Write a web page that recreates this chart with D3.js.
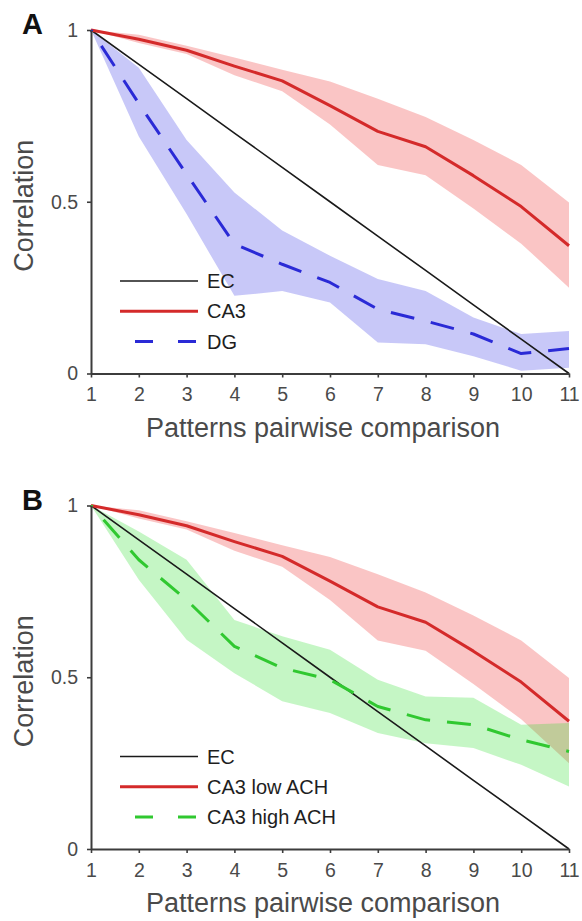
<!DOCTYPE html>
<html>
<head>
<meta charset="utf-8">
<script src="https://cdnjs.cloudflare.com/ajax/libs/d3/7.8.5/d3.min.js"></script>
<style>
  body { margin: 0; background: #fff; }
  svg { display: block; font-family: Arial, "Liberation Sans", sans-serif; }
</style>
</head>
<body>
<svg id="chart" width="582" height="921"></svg>
<script>
'use strict';
// pattern index (x axis)
var patterns = [1, 2, 3, 4, 5, 6, 7, 8, 9, 10, 11];
var xTicks = [1, 2, 3, 4, 5, 6, 7, 8, 9, 10, 11];
var yTicks = [0, 0.5, 1];
var yTickLabels = ['0', '0.5', '1'];

// EC input correlation
var ecMean = [1, 0.9, 0.8, 0.7, 0.6, 0.5, 0.4, 0.3, 0.2, 0.1, 0];
// CA3 (low ACH)
var ca3Mean = [1, 0.973, 0.941, 0.895, 0.852, 0.78, 0.705, 0.66, 0.576, 0.486, 0.372];
var ca3Upper = [1, 0.986, 0.954, 0.92, 0.884, 0.85, 0.8, 0.747, 0.68, 0.607, 0.498];
var ca3Lower = [1, 0.962, 0.93, 0.868, 0.822, 0.725, 0.607, 0.577, 0.48, 0.378, 0.25];
// DG
var dgMean = [1, 0.786, 0.58, 0.377, 0.318, 0.265, 0.187, 0.153, 0.115, 0.058, 0.073];
var dgUpper = [1, 0.89, 0.68, 0.527, 0.416, 0.343, 0.275, 0.24, 0.163, 0.115, 0.124];
var dgLower = [1, 0.69, 0.464, 0.226, 0.24, 0.207, 0.09, 0.085, 0.05, 0.008, 0.017];
// CA3 high ACH
var ca3HighMean = [1, 0.842, 0.725, 0.59, 0.527, 0.493, 0.415, 0.376, 0.362, 0.318, 0.284];
var ca3HighUpper = [1, 0.924, 0.842, 0.667, 0.619, 0.58, 0.493, 0.444, 0.44, 0.362, 0.367];
var ca3HighLower = [1, 0.784, 0.609, 0.512, 0.43, 0.396, 0.338, 0.308, 0.294, 0.245, 0.182];

var svg = d3.select('#chart');

var x = d3.scaleLinear().domain([1, 11]).range([91, 569]);

var drawPanel = function(letter, top, series){
  var bottom = top + 343.5;
  var y = d3.scaleLinear().domain([0, 1]).range([bottom, top]);
  var g = svg.append('g');

  var area = d3.area()
    .x(function(d){ return x(d.x); })
    .y0(function(d){ return y(d.lo); })
    .y1(function(d){ return y(d.hi); });
  var line = d3.line()
    .x(function(d){ return x(d.x); })
    .y(function(d){ return y(d.v); });

  // shaded bands first
  series.forEach(function(s){
    if(!s.upper) return;
    var pts = patterns.map(function(p, i){ return {x: p, lo: s.lower[i], hi: s.upper[i]}; });
    g.append('path')
      .attr('d', area(pts))
      .attr('fill', s.band)
      .attr('fill-opacity', 0.27)
      .attr('stroke', 'none');
  });

  series.forEach(function(s){
    var pts = patterns.map(function(p, i){ return {x: p, v: s.mean[i]}; });
    g.append('path')
      .attr('d', line(pts))
      .attr('fill', 'none')
      .attr('stroke', s.color)
      .attr('stroke-width', s.width)
      .attr('stroke-dasharray', s.dashed ? '24,17' : null)
      .attr('stroke-dashoffset', s.dashed ? 22 : null)
      .attr('stroke-linejoin', 'round');
  });

  // axes
  var xAxis = d3.axisBottom(x).tickValues(xTicks).tickSize(4).tickSizeOuter(0).tickPadding(10);
  var yAxis = d3.axisLeft(y).tickValues(yTicks).tickSize(4).tickSizeOuter(0).tickPadding(9)
    .tickFormat(function(d, i){ return yTickLabels[i]; });

  var gx = g.append('g').attr('transform', 'translate(0,' + bottom + ')').call(xAxis);
  var gy = g.append('g').attr('transform', 'translate(' + x(1) + ',0)').call(yAxis);
  [gx, gy].forEach(function(a){
    a.select('.domain').attr('stroke', '#3c3c3c').attr('stroke-width', 2);
    a.selectAll('.tick line').attr('stroke', '#3c3c3c').attr('stroke-width', 1.6);
    a.selectAll('.tick text').attr('fill', '#4a4a4a').style('font-size', '19.5px')
      .style('font-family', 'Arial, "Liberation Sans", sans-serif');
  });

  g.append('text')
    .text('Patterns pairwise comparison')
    .attr('x', 323).attr('y', bottom + 63)
    .attr('text-anchor', 'middle')
    .style('font-size', '27px')
    .attr('fill', '#4a4a4a');

  g.append('text')
    .text('Correlation')
    .attr('transform', 'translate(33,' + ((top + bottom) / 2 + 4) + ') rotate(-90)')
    .attr('text-anchor', 'middle')
    .style('font-size', '27px')
    .attr('fill', '#4a4a4a');

  g.append('text')
    .text(letter)
    .attr('x', 22).attr('y', top + 4)
    .style('font-size', '29px')
    .style('font-weight', 'bold')
    .attr('fill', '#111');

  // legend
  series.forEach(function(s, i){
    var ly = bottom - 92.5 + i * 30.3;
    var lg = g.append('g');
    if(s.dashed){
      lg.append('line')
        .attr('x1', 135).attr('x2', 198).attr('y1', ly).attr('y2', ly)
        .attr('stroke', s.color).attr('stroke-width', s.width)
        .attr('stroke-dasharray', '18,25');
    } else {
      lg.append('line')
        .attr('x1', 120).attr('x2', 198).attr('y1', ly).attr('y2', ly)
        .attr('stroke', s.color).attr('stroke-width', s.width);
    }
    lg.append('text')
      .text(s.name)
      .attr('x', 207).attr('y', ly)
      .attr('dy', '0.35em')
      .style('font-size', '20px')
      .attr('fill', '#1e1e1e');
  });
};

drawPanel('A', 30, [
  {name: 'EC', mean: ecMean, color: '#1a1a1a', width: 1.6},
  {name: 'CA3', mean: ca3Mean, upper: ca3Upper, lower: ca3Lower, color: '#d42a2a', band: '#ee2a2a', width: 3},
  {name: 'DG', mean: dgMean, upper: dgUpper, lower: dgLower, color: '#2a2ad6', band: '#3232e6', width: 3, dashed: true}
]);

// panel B: red band drawn before green in series order; overlap blends to tan
drawPanel('B', 505.5, [
  {name: 'EC', mean: ecMean, color: '#1a1a1a', width: 1.6},
  {name: 'CA3 low ACH', mean: ca3Mean, upper: ca3Upper, lower: ca3Lower, color: '#d42a2a', band: '#ee2a2a', width: 3},
  {name: 'CA3 high ACH', mean: ca3HighMean, upper: ca3HighUpper, lower: ca3HighLower, color: '#30c830', band: '#28dc28', width: 3, dashed: true}
]);
</script>
</body>
</html>
